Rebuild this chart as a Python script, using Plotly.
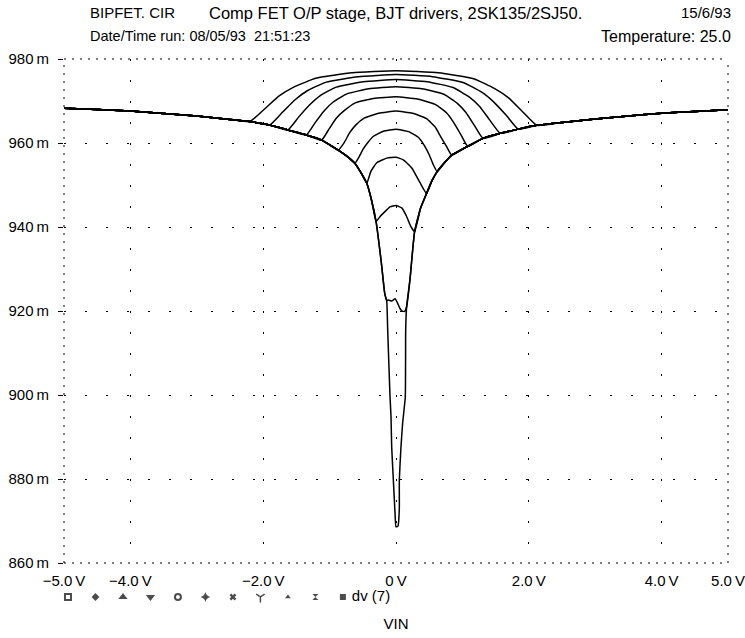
import plotly.graph_objects as go

# ---------------- data ----------------
# shared envelope, left branch (V from -5 to the notch) and right branch
ENV_LEFT_X = [-5.0, -4.5, -4.0, -3.5, -3.0, -2.5, -2.2, -1.9, -1.63, -1.35, -1.12,
              -0.87, -0.75, -0.62, -0.53, -0.44, -0.37, -0.30, -0.22, -0.17, -0.14]
ENV_LEFT_Y = [968.3, 968.0, 967.6, 967.0, 966.4, 965.6, 965.1, 964.3, 963.1, 961.9, 960.7,
              958.3, 957.0, 955.2, 953.0, 950.4, 946.5, 941.3, 931.4, 924.2, 922.5]
ENV_RIGHT_X = [0.16, 0.21, 0.28, 0.37, 0.46, 0.54, 0.62, 0.73, 0.84, 1.08, 1.31,
               1.57, 1.84, 2.12, 2.5, 3.0, 3.5, 4.0, 4.5, 5.0]
ENV_RIGHT_Y = [921.0, 927.4, 938.9, 944.5, 948.0, 951.0, 953.2, 955.3, 957.1, 959.2, 961.1,
               962.3, 963.3, 964.2, 964.9, 965.7, 966.4, 967.1, 967.5, 967.9]

# the part of each of the 11 stepped curves that leaves the envelope
MID_X_1 = [-2.2, -1.98, -1.76, -1.54, -1.21, -0.66, 0.0, 0.64, 1.17, 1.48, 1.70, 1.91, 2.12]
MID_Y_1 = [965.1, 968.1, 971.2, 973.3, 975.4, 976.7, 977.2, 976.7, 975.3, 973.0, 970.7, 967.4, 964.2]
MID_X_2 = [-1.9, -1.71, -1.52, -1.33, -1.05, -0.57, 0.0, 0.55, 1.01, 1.29, 1.47, 1.66, 1.84]
MID_Y_2 = [964.3, 967.3, 970.3, 972.5, 974.5, 975.8, 976.3, 975.8, 974.4, 972.1, 969.8, 966.6, 963.3]
MID_X_3 = [-1.63, -1.47, -1.30, -1.14, -0.90, -0.49, 0.0, 0.47, 0.86, 1.10, 1.26, 1.41, 1.57]
MID_Y_3 = [963.1, 966.1, 969.1, 971.3, 973.3, 974.6, 975.1, 974.6, 973.2, 971.0, 968.7, 965.5, 962.3]
MID_X_4 = [-1.35, -1.22, -1.08, -0.95, -0.74, -0.41, 0.0, 0.39, 0.72, 0.92, 1.05, 1.18, 1.31]
MID_Y_4 = [961.9, 964.8, 967.7, 969.7, 971.7, 972.9, 973.4, 972.9, 971.6, 969.5, 967.3, 964.2, 961.1]
MID_X_5 = [-1.12, -1.01, -0.90, -0.78, -0.62, -0.34, 0.0, 0.32, 0.59, 0.76, 0.86, 0.97, 1.08]
MID_Y_5 = [960.7, 963.3, 965.9, 967.7, 969.5, 970.6, 971.0, 970.5, 969.2, 967.2, 965.1, 962.2, 959.2]
MID_X_6 = [-0.87, -0.78, -0.70, -0.61, -0.48, -0.26, 0.0, 0.25, 0.46, 0.59, 0.67, 0.76, 0.84]
MID_Y_6 = [958.3, 960.1, 962.4, 964.2, 965.9, 967.1, 967.6, 967.1, 965.8, 963.8, 961.6, 959.2, 957.1]
MID_X_7 = [-0.62, -0.56, -0.50, -0.43, -0.34, -0.19, 0.0, 0.19, 0.34, 0.43, 0.50, 0.56, 0.62]
MID_Y_7 = [955.2, 956.6, 958.4, 960.0, 961.6, 962.8, 963.3, 962.7, 961.3, 959.3, 957.2, 954.9, 953.2]
MID_X_8 = [-0.44, -0.38, -0.29, -0.14, 0.0, 0.11, 0.24, 0.36, 0.46]
MID_Y_8 = [950.4, 953.2, 955.3, 956.4, 956.6, 956.0, 954.0, 950.6, 948.0]
MID_X_9 = [-0.30, -0.24, -0.19, -0.09, 0.0, 0.09, 0.16, 0.22, 0.28]
MID_Y_9 = [941.3, 942.5, 943.3, 944.8, 945.1, 944.5, 942.5, 940.2, 938.9]
MID_X_10 = [-0.14, -0.115, -0.06, -0.015, 0.02, 0.06, 0.09, 0.13, 0.16]
MID_Y_10 = [922.5, 922.6, 922.4, 922.9, 922.0, 920.6, 920.0, 919.9, 921.0]
MID_X_11 = [-0.14, -0.125, -0.09, -0.075, -0.065, -0.04, -0.015, 0.0, 0.03, 0.05,
            0.05, 0.075, 0.10, 0.14, 0.146, 0.16]
MID_Y_11 = [922.5, 915.5, 899.6, 894.8, 887.7, 879.8, 872.0, 868.6, 868.8, 873.0,
            879.8, 887.7, 893.3, 899.6, 915.5, 921.0]

MID_X = [MID_X_1, MID_X_2, MID_X_3, MID_X_4, MID_X_5, MID_X_6, MID_X_7, MID_X_8,
         MID_X_9, MID_X_10, MID_X_11]
MID_Y = [MID_Y_1, MID_Y_2, MID_Y_3, MID_Y_4, MID_Y_5, MID_Y_6, MID_Y_7, MID_Y_8,
         MID_Y_9, MID_Y_10, MID_Y_11]

X_TICKS = [-5, -4, -2, 0, 2, 4, 5]
X_TICK_TEXT = ["\u22125.0\u2009V", "\u22124.0\u2009V", "\u22122.0\u2009V", "0\u2009V",
               "2.0\u2009V", "4.0\u2009V", "5.0\u2009V"]
Y_TICKS = [860, 880, 900, 920, 940, 960, 980]
Y_TICK_TEXT = ["860\u2009m", "880\u2009m", "900\u2009m", "920\u2009m", "940\u2009m",
               "960\u2009m", "980\u2009m"]

LEGEND_SYMBOLS = ["square-open", "diamond", "triangle-up", "triangle-down", "circle-open",
                  "star-diamond", "x", "y-down-open", "triangle-up", "hourglass", "square"]
LEGEND_SIZES = [6, 6, 8, 8, 6, 7, 6, 7, 5, 6, 6]
LEGEND_LINE_W = [2, 0, 0, 0, 2, 0, 0, 1.5, 0, 0, 0]
LEGEND_NAMES = ["", "", "", "", "", "", "", "", "", "", "\u00a0dv (7)"]

FONT = "Liberation Sans, Arial, sans-serif"

fig = go.Figure()

for mx, my in zip(MID_X, MID_Y):
    xs = [x for x in ENV_LEFT_X if x < mx[0]] + mx + [x for x in ENV_RIGHT_X if x > mx[-1]]
    ys = ([y for x, y in zip(ENV_LEFT_X, ENV_LEFT_Y) if x < mx[0]] + my +
          [y for x, y in zip(ENV_RIGHT_X, ENV_RIGHT_Y) if x > mx[-1]])
    fig.add_trace(go.Scatter(x=xs, y=ys, mode="lines", showlegend=False,
                             line=dict(color="black", width=1.5, shape="spline", smoothing=0.4),
                             hoverinfo="skip"))

# key row below the axis: one symbol per stepped curve, label on the last one
fig.add_trace(go.Scatter(
    x=list(range(len(LEGEND_SYMBOLS))), y=[0] * len(LEGEND_SYMBOLS),
    xaxis="x2", yaxis="y2", mode="markers+text", showlegend=False, cliponaxis=False,
    text=LEGEND_NAMES, textposition="middle right",
    textfont=dict(family=FONT, size=15, color="black"),
    marker=dict(symbol=LEGEND_SYMBOLS, size=LEGEND_SIZES, color="black",
                line=dict(color="black", width=LEGEND_LINE_W)),
    hoverinfo="skip"))

# dotted frame
for x0, y0, x1, y1 in [(0, 0, 1, 0), (0, 1, 1, 1), (0, 0, 0, 1), (1, 0, 1, 1)]:
    fig.add_shape(type="line", xref="x domain", yref="y domain", x0=x0, y0=y0, x1=x1, y1=y1,
                  line=dict(color="black", width=1, dash="2px,6px"), layer="below")

def hdr(text, x, y, anchor, size):
    fig.add_annotation(text=text, x=x, y=y, xref="x domain", yref="y domain",
                       xanchor=anchor, yanchor="middle", showarrow=False,
                       font=dict(family=FONT, size=size, color="black"))

hdr("BIPFET. CIR", 0.036, 1.0913, "left", 15)
hdr("Comp FET O/P stage, BJT drivers, 2SK135/2SJ50.", 0.215, 1.0913, "left", 16.5)
hdr("15/6/93", 1.0075, 1.0913, "right", 15)
hdr("Date/Time run: 08/05/93\u00a0\u00a021:51:23", 0.036, 1.0456, "left", 14.5)
hdr("Temperature: 25.0", 1.0075, 1.0456, "right", 16)

fig.update_layout(
    width=745, height=638,
    margin=dict(l=64, r=17, t=59, b=10),
    paper_bgcolor="white", plot_bgcolor="white",
    font=dict(family=FONT, size=15, color="black"),
    showlegend=False,
    xaxis=dict(range=[-5, 5], tickvals=X_TICKS, ticktext=X_TICK_TEXT, automargin=False,
               showgrid=True, gridcolor="black", gridwidth=1, griddash="2px,19px",
               zeroline=False, showline=False, ticks="", ticklabelstandoff=7,
               tickfont=dict(size=15), anchor="y",
               title=dict(text="VIN", standoff=30, font=dict(size=15))),
    yaxis=dict(range=[860, 980], tickvals=Y_TICKS, ticktext=Y_TICK_TEXT, automargin=False,
               domain=[0.1142, 1], anchor="x",
               showgrid=True, gridcolor="black", gridwidth=1, griddash="2px,19px",
               zeroline=False, showline=False, ticks="outside", ticklen=5,
               ticklabelstandoff=6, tickcolor="black", tickfont=dict(size=15)),
    xaxis2=dict(domain=[0.006, 0.42], range=[0, 10], visible=False, anchor="y2"),
    yaxis2=dict(domain=[0.040, 0.069], range=[-1, 1], visible=False, anchor="x2"),
)

# drop the browser's default 8 px body margin so the figure fills the window
fig.write_html("out.html", config={"displayModeBar": False},
               post_script="document.body.style.margin='0';document.body.style.overflow='hidden';")
